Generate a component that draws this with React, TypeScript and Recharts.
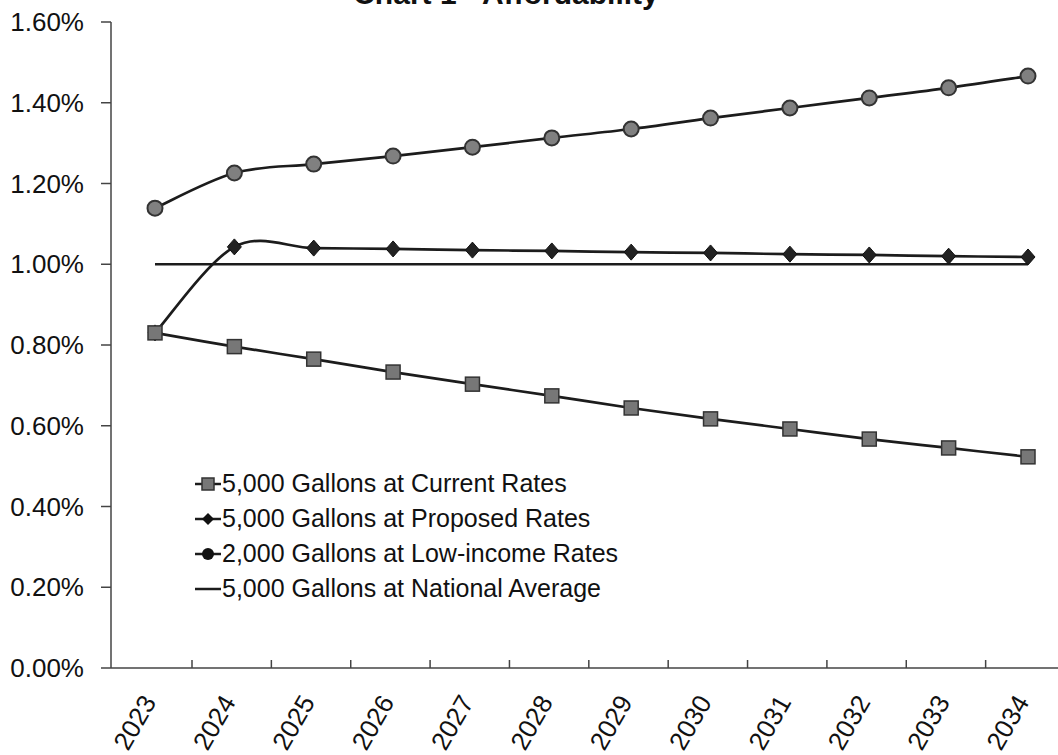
import React from 'react';
import { LineChart, Line, XAxis, YAxis, Legend } from 'recharts';

// Affordability (% of household income) by year
const years = ['2023', '2024', '2025', '2026', '2027', '2028', '2029', '2030', '2031', '2032', '2033', '2034'];
const currentRates = [0.83, 0.796, 0.765, 0.733, 0.703, 0.674, 0.644, 0.617, 0.592, 0.567, 0.545, 0.523];
const proposedRates = [0.83, 1.043, 1.04, 1.038, 1.035, 1.033, 1.03, 1.028, 1.025, 1.023, 1.02, 1.018];
const lowIncomeRates = [1.139, 1.226, 1.248, 1.268, 1.29, 1.313, 1.335, 1.362, 1.387, 1.412, 1.437, 1.466];
const nationalAverage = [1.0, 1.0, 1.0, 1.0, 1.0, 1.0, 1.0, 1.0, 1.0, 1.0, 1.0, 1.0];
const yTicks = [0, 0.2, 0.4, 0.6, 0.8, 1.0, 1.2, 1.4, 1.6];

const seriesNames: Record<string, string> = {
  current: '5,000 Gallons at Current Rates',
  proposed: '5,000 Gallons at Proposed Rates',
  lowIncome: '2,000 Gallons at Low-income Rates',
  national: '5,000 Gallons at National Average',
};
const legendOrder = ['current', 'proposed', 'lowIncome', 'national'];

const data = years.map((year, i) => ({
  year,
  current: currentRates[i],
  proposed: proposedRates[i],
  lowIncome: lowIncomeRates[i],
  national: nationalAverage[i],
}));

const FONT = '"Liberation Sans", Arial, sans-serif';
const INK = '#1c1c1c';

// Spreadsheet-style smoothed line: cubic Bezier segments with 1/6 tangents
function smoothCurve(context: any) {
  let pts: number[][] = [];
  return {
    areaStart() {},
    areaEnd() {},
    lineStart() {
      pts = [];
    },
    point(x: number, y: number) {
      pts.push([+x, +y]);
    },
    lineEnd() {
      const n = pts.length;
      if (!n) return;
      context.moveTo(pts[0][0], pts[0][1]);
      for (let i = 0; i < n - 1; i++) {
        const p0 = pts[Math.max(0, i - 1)];
        const p1 = pts[i];
        const p2 = pts[i + 1];
        const p3 = pts[Math.min(n - 1, i + 2)];
        context.bezierCurveTo(
          p1[0] + (p2[0] - p0[0]) / 6,
          p1[1] + (p2[1] - p0[1]) / 6,
          p2[0] - (p3[0] - p1[0]) / 6,
          p2[1] - (p3[1] - p1[1]) / 6,
          p2[0],
          p2[1]
        );
      }
    },
  };
}

const SquareDot = (props: any) => {
  const { cx, cy, index } = props;
  if (cx == null || cy == null) return <g key={`sq-${index}`} />;
  return (
    <rect key={`sq-${index}`} x={cx - 7} y={cy - 7} width={14} height={14} fill="#777" stroke="#333" strokeWidth={1.5} />
  );
};

const DiamondDot = (props: any) => {
  const { cx, cy, index } = props;
  if (cx == null || cy == null) return <g key={`dm-${index}`} />;
  return (
    <polygon
      key={`dm-${index}`}
      points={`${cx},${cy - 8} ${cx + 7},${cy} ${cx},${cy + 8} ${cx - 7},${cy}`}
      fill="#222"
      stroke="#111"
      strokeWidth={1}
    />
  );
};

const CircleDot = (props: any) => {
  const { cx, cy, index } = props;
  if (cx == null || cy == null) return <g key={`ci-${index}`} />;
  return <circle key={`ci-${index}`} cx={cx} cy={cy} r={7.5} fill="#808080" stroke="#333" strokeWidth={2} />;
};

// Category label plus the divider tick at the right edge of each category
const YearTick = (props: any) => {
  const { x, y, payload } = props;
  const tx = x + 2;
  const ty = y + 34;
  return (
    <g>
      <line x1={x + 37} x2={x + 37} y1={y} y2={y - 8} stroke="#444" strokeWidth={1.5} />
      <text
        x={tx}
        y={ty}
        transform={`rotate(-60 ${tx} ${ty})`}
        textAnchor="end"
        fontSize={26}
        fontFamily={FONT}
        fill="#111"
      >
        {payload.value}
      </text>
    </g>
  );
};

const LegendIcon = ({ kind }: { kind: string }) => (
  <svg width={27} height={20} style={{ display: 'block' }}>
    <line x1={0} x2={26} y1={10} y2={10} stroke={INK} strokeWidth={2.5} />
    {kind === 'current' && <rect x={7} y={4} width={12} height={12} fill="#777" stroke="#333" strokeWidth={1.5} />}
    {kind === 'proposed' && <polygon points="13,4 19,10 13,16 7,10" fill="#111" />}
    {kind === 'lowIncome' && <circle cx={13} cy={10} r={6} fill="#111" />}
  </svg>
);

const renderLegend = (props: any) => {
  const items = [...(props.payload || [])].sort(
    (a: any, b: any) => legendOrder.indexOf(a.dataKey) - legendOrder.indexOf(b.dataKey)
  );
  return (
    <div style={{ fontFamily: FONT, fontSize: 25, color: '#111' }}>
      {items.map((item: any) => (
        <div key={item.dataKey} style={{ display: 'flex', alignItems: 'center', height: 35 }}>
          <LegendIcon kind={item.dataKey} />
          <span style={{ whiteSpace: 'nowrap' }}>{item.value}</span>
        </div>
      ))}
    </div>
  );
};

export default function App() {
  return (
    <div
      style={{
        position: 'absolute',
        left: 0,
        top: 0,
        width: 1058,
        height: 755,
        overflow: 'hidden',
        background: '#fff',
      }}
    >
      <svg width={1058} height={40} style={{ position: 'absolute', left: 0, top: 0 }}>
        <text x={506} y={4} textAnchor="middle" fontSize={30} fontWeight="bold" fontFamily={FONT} fill="#111">
          Chart 1 - Affordability
        </text>
      </svg>
      <div style={{ position: 'absolute', left: 0, top: 0 }}>
        <LineChart width={1080} height={755} data={data} margin={{ top: 22, right: 17, bottom: 0, left: 11 }}>
          <XAxis
            dataKey="year"
            height={87}
            padding={{ left: 44, right: 35 }}
            tickLine={false}
            tickSize={0}
            tickMargin={0}
            interval={0}
            tick={<YearTick />}
            axisLine={{ stroke: '#444', strokeWidth: 1.5 }}
          />
          <YAxis
            width={100}
            domain={[0, 1.6]}
            ticks={yTicks}
            interval={0}
            tickFormatter={(v: number) => `${v.toFixed(2)}%`}
            tick={{ fontSize: 26, fontFamily: FONT, fill: '#111' }}
            tickSize={10}
            tickMargin={17}
            tickLine={{ stroke: '#444', strokeWidth: 1.5 }}
            axisLine={{ stroke: '#444', strokeWidth: 1.5 }}
          />
          <Legend
            layout="vertical"
            align="center"
            verticalAlign="middle"
            content={renderLegend}
            wrapperStyle={{ left: 195, top: 466, width: 460 }}
          />
          <Line
            dataKey="national"
            name={seriesNames.national}
            type={smoothCurve as any}
            stroke={INK}
            strokeWidth={2.7}
            dot={false}
            isAnimationActive={false}
          />
          <Line
            dataKey="lowIncome"
            name={seriesNames.lowIncome}
            type={smoothCurve as any}
            stroke={INK}
            strokeWidth={2.7}
            dot={CircleDot}
            isAnimationActive={false}
          />
          <Line
            dataKey="proposed"
            name={seriesNames.proposed}
            type={smoothCurve as any}
            stroke={INK}
            strokeWidth={2.7}
            dot={DiamondDot}
            isAnimationActive={false}
          />
          <Line
            dataKey="current"
            name={seriesNames.current}
            type={smoothCurve as any}
            stroke={INK}
            strokeWidth={2.7}
            dot={SquareDot}
            isAnimationActive={false}
          />
        </LineChart>
      </div>
    </div>
  );
}
